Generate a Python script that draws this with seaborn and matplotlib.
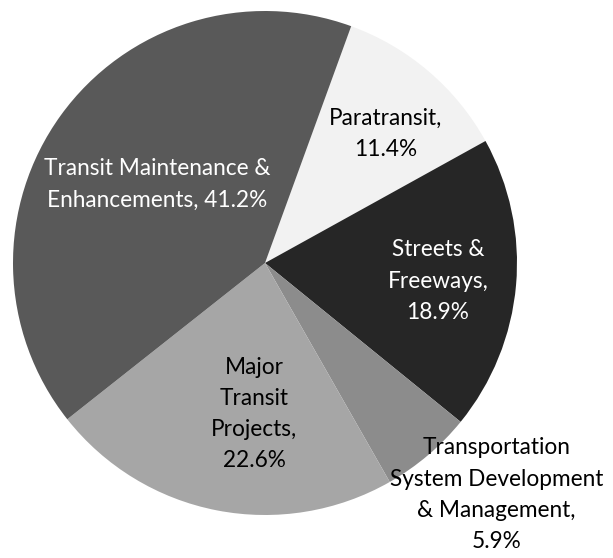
import matplotlib
matplotlib.use('Agg')
import matplotlib.pyplot as plt
import numpy as np
import seaborn as sns

sns.set_theme(style='white')
plt.rcParams['font.family'] = ['Lato', 'DejaVu Sans']

# data, clockwise from the top
categories = ['Paratransit', 'Streets & Freeways',
              'Transportation System Development & Management',
              'Major Transit Projects', 'Transit Maintenance & Enhancements']
shares = [11.4, 18.9, 5.9, 22.6, 41.2]
label_texts = ['Paratransit,\n11.4%', 'Streets &\nFreeways,\n18.9%',
               'Transportation\nSystem Development\n& Management,\n5.9%',
               'Major\nTransit\nProjects,\n22.6%',
               'Transit Maintenance &\nEnhancements, 41.2%']
colors = ['#f2f2f2', '#262626', '#8c8c8c', '#a6a6a6', '#595959']
text_colors = ['black', 'white', 'black', 'black', 'white']
# label centre as (distance from centre in radii, angle clockwise from top)
label_pos = [(0.70, 43), (0.69, 96), (1.30, 135), (0.60, 184), (0.53, 306)]

fig = plt.figure(figsize=(6.13, 5.58), dpi=100)
ax = fig.add_axes([0, 0, 1, 1])

wedges, _ = ax.pie(shares, colors=colors, startangle=70, counterclock=False,
                   radius=1.0, wedgeprops={'linewidth': 0})

for txt, col, (d, a) in zip(label_texts, text_colors, label_pos):
    t = np.deg2rad(a)
    ax.text(d * np.sin(t), d * np.cos(t), txt, ha='center', va='center',
            color=col, fontsize=16.3, linespacing=1.6)

ax.set_aspect('equal')
ax.set_xlim(-265 / 252, (613 - 265) / 252)
ax.set_ylim((263 - 558) / 252, 263 / 252)
ax.axis('off')

fig.savefig('out.png', dpi=100)
